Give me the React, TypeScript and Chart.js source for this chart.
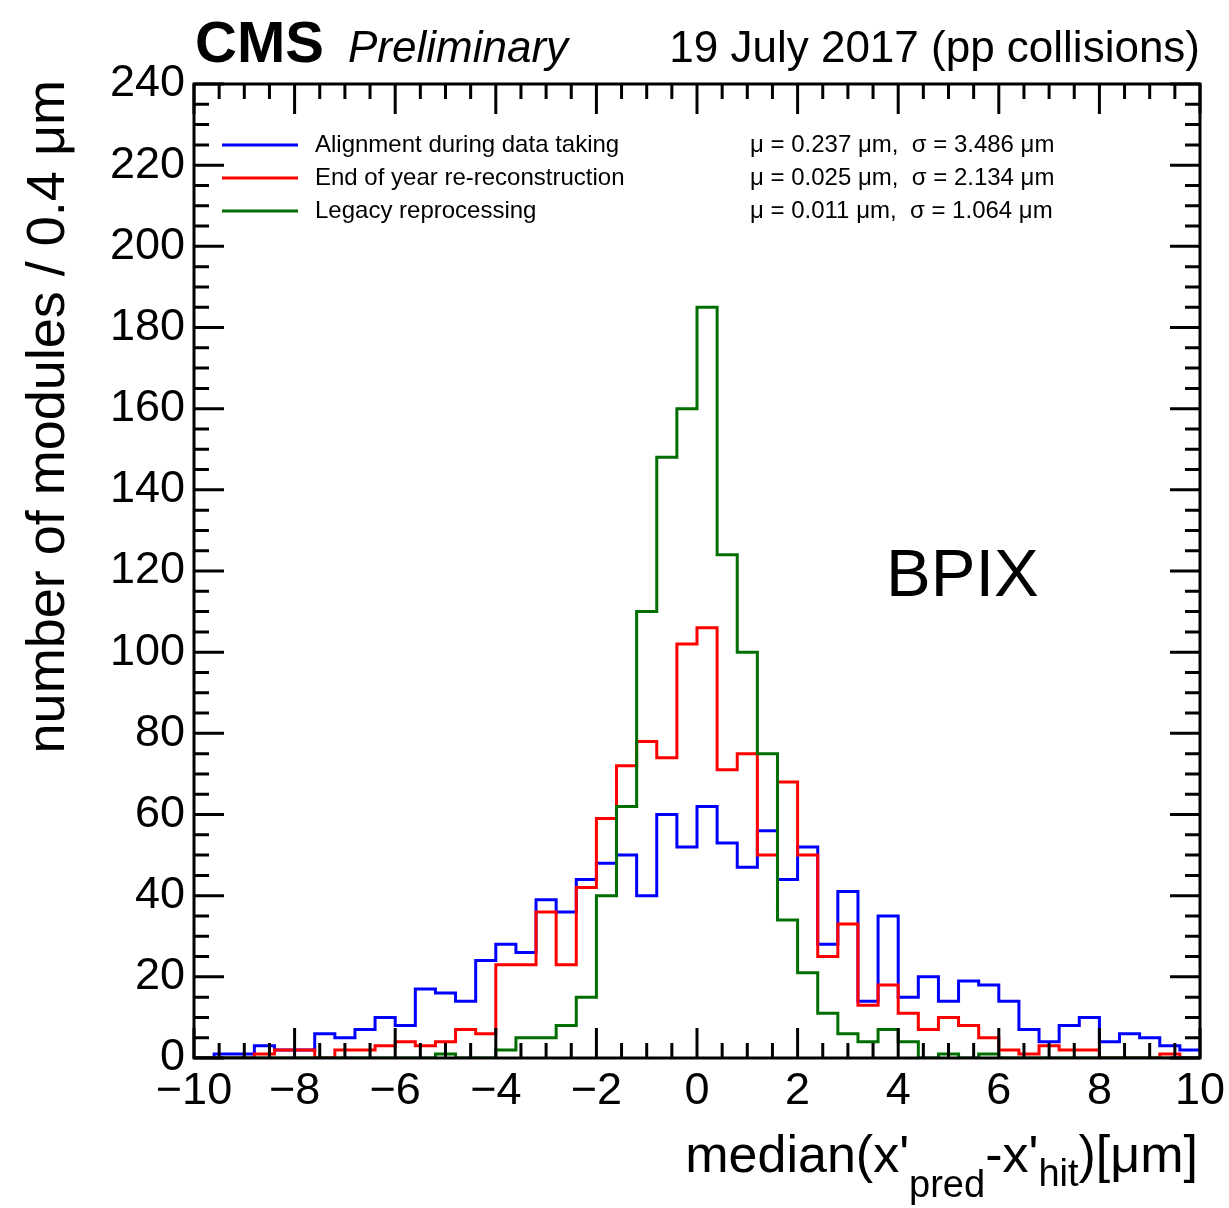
import React, { useEffect, useRef } from "react";
import { Chart, registerables } from "chart.js";

Chart.register(...registerables);

// ---- axis definition ----
const X_MIN = -10;
const X_MAX = 10;
const BIN_WIDTH = 0.4;
const Y_MIN = 0;
const Y_MAX = 240;
const xTickValues = [-10, -8, -6, -4, -2, 0, 2, 4, 6, 8, 10];
const yTickValues = [0, 20, 40, 60, 80, 100, 120, 140, 160, 180, 200, 220, 240];
const X_MINOR_DIVISIONS = 4;
const Y_MINOR_DIVISIONS = 4;

// ---- histogram contents (50 bins of 0.4 um from -10 to 10) ----
const alignmentDuringDataTaking = [
  0, 1, 1, 3, 2, 2, 6, 5, 7, 10,
  8, 17, 16, 14, 24, 28, 26, 39, 36, 44,
  48, 50, 40, 60, 52, 62, 53, 47, 56, 44,
  52, 28, 41, 14, 35, 15, 20, 14, 19, 18,
  14, 7, 4, 8, 10, 4, 6, 5, 3, 2,
];
const endOfYearReReconstruction = [
  0, 0, 0, 1, 2, 2, 0, 2, 2, 3,
  4, 3, 4, 7, 6, 23, 23, 36, 23, 42,
  59, 72, 78, 74, 102, 106, 71, 75, 50, 68,
  50, 25, 33, 13, 18, 11, 7, 10, 8, 5,
  2, 1, 3, 2, 2, 0, 0, 0, 1, 0,
];
const legacyReprocessing = [
  0, 0, 0, 0, 0, 0, 0, 0, 0, 0,
  0, 0, 1, 0, 0, 2, 5, 5, 8, 15,
  40, 62, 110, 148, 160, 185, 124, 100, 75, 34,
  21, 11, 6, 4, 7, 4, 0, 1, 0, 1,
  0, 0, 0, 0, 0, 0, 0, 0, 0, 0,
];

const seriesLabels = [
  "Alignment during data taking",
  "End of year re-reconstruction",
  "Legacy reprocessing",
];
const seriesStats = [
  "\u03bc = 0.237 \u03bcm,  \u03c3 = 3.486 \u03bcm",
  "\u03bc = 0.025 \u03bcm,  \u03c3 = 2.134 \u03bcm",
  "\u03bc = 0.011 \u03bcm,  \u03c3 = 1.064 \u03bcm",
];
const seriesColors = ["#0000ff", "#ff0000", "#006e00"];
const seriesValues = [alignmentDuringDataTaking, endOfYearReReconstruction, legacyReprocessing];

const FONT = "'Liberation Sans', Arial, Helvetica, sans-serif";

function toSteps(values: number[]) {
  const pts = values.map((v, i) => ({ x: X_MIN + i * BIN_WIDTH, y: v }));
  pts.push({ x: X_MAX, y: values[values.length - 1] });
  return pts;
}

function fmt(v: number) {
  return v < 0 ? "\u2212" + Math.abs(v) : String(v);
}

const decorPlugin = {
  id: "cmsDecor",
  afterDatasetsDraw(chart: any) {
    const { ctx, chartArea } = chart;
    const xs = chart.scales.x;
    const ys = chart.scales.y;
    const { left, right, top, bottom } = chartArea;
    ctx.save();
    ctx.strokeStyle = "#000";
    ctx.lineWidth = 3;
    ctx.lineCap = "butt";
    ctx.beginPath();
    for (let i = 0; i < xTickValues.length; i++) {
      const v = xTickValues[i];
      const px = xs.getPixelForValue(v);
      ctx.moveTo(px, bottom);
      ctx.lineTo(px, bottom - 30);
      ctx.moveTo(px, top);
      ctx.lineTo(px, top + 30);
      if (i < xTickValues.length - 1) {
        const step = (xTickValues[i + 1] - v) / X_MINOR_DIVISIONS;
        for (let k = 1; k < X_MINOR_DIVISIONS; k++) {
          const mx = xs.getPixelForValue(v + k * step);
          ctx.moveTo(mx, bottom);
          ctx.lineTo(mx, bottom - 15);
          ctx.moveTo(mx, top);
          ctx.lineTo(mx, top + 15);
        }
      }
    }
    for (let i = 0; i < yTickValues.length; i++) {
      const v = yTickValues[i];
      const py = ys.getPixelForValue(v);
      ctx.moveTo(left, py);
      ctx.lineTo(left + 30, py);
      ctx.moveTo(right, py);
      ctx.lineTo(right - 30, py);
      if (i < yTickValues.length - 1) {
        const step = (yTickValues[i + 1] - v) / Y_MINOR_DIVISIONS;
        for (let k = 1; k < Y_MINOR_DIVISIONS; k++) {
          const my = ys.getPixelForValue(v + k * step);
          ctx.moveTo(left, my);
          ctx.lineTo(left + 15, my);
          ctx.moveTo(right, my);
          ctx.lineTo(right - 15, my);
        }
      }
    }
    ctx.stroke();
    ctx.lineWidth = 3;
    ctx.strokeRect(left, top, right - left, bottom - top);
    ctx.restore();
  },
  afterDraw(chart: any) {
    const { ctx, chartArea } = chart;
    const { left, right } = chartArea;
    ctx.save();
    ctx.fillStyle = "#000";
    ctx.textBaseline = "alphabetic";

    // header
    ctx.textAlign = "left";
    ctx.font = `bold 58px ${FONT}`;
    ctx.fillText("CMS", left + 1, 62);
    ctx.font = `italic 44px ${FONT}`;
    ctx.fillText("Preliminary", 348, 62);
    ctx.textAlign = "right";
    ctx.font = `44px ${FONT}`;
    ctx.fillText("19 July 2017 (pp collisions)", right, 62);

    // legend
    ctx.textAlign = "left";
    ctx.textBaseline = "middle";
    ctx.font = `24px ${FONT}`;
    const legendY = [145, 178, 211];
    for (let i = 0; i < seriesLabels.length; i++) {
      ctx.strokeStyle = seriesColors[i];
      ctx.lineWidth = 3;
      ctx.beginPath();
      ctx.moveTo(222, legendY[i]);
      ctx.lineTo(298, legendY[i]);
      ctx.stroke();
      ctx.fillText(seriesLabels[i], 315, legendY[i]);
      ctx.fillText(seriesStats[i], 750, legendY[i]);
    }

    // BPIX
    ctx.textBaseline = "alphabetic";
    ctx.font = `67px ${FONT}`;
    ctx.fillText("BPIX", 886, 596);

    // y title
    ctx.save();
    ctx.translate(64, 80);
    ctx.rotate(-Math.PI / 2);
    ctx.textAlign = "right";
    ctx.font = `54px ${FONT}`;
    ctx.fillText("number of modules / 0.4 \u03bcm", 0, 0);
    ctx.restore();

    // x title with subscripts
    const big = `52px ${FONT}`;
    const sub = `38px ${FONT}`;
    const parts = [
      { t: "median(x'", f: big, dy: 0 },
      { t: "pred", f: sub, dy: 25 },
      { t: "-x'", f: big, dy: 0 },
      { t: "hit", f: sub, dy: 14 },
      { t: ")[\u03bcm]", f: big, dy: 0 },
    ];
    let total = 0;
    for (const p of parts) {
      ctx.font = p.f;
      total += ctx.measureText(p.t).width;
    }
    let x = right - 2 - total;
    const base = 1172;
    ctx.textAlign = "left";
    for (const p of parts) {
      ctx.font = p.f;
      ctx.fillText(p.t, x, base + p.dy);
      x += ctx.measureText(p.t).width;
    }
    ctx.restore();
  },
};

export default function App() {
  const ref = useRef<HTMLCanvasElement | null>(null);
  useEffect(() => {
    document.body.style.margin = "0";
    const canvas = ref.current!;
    const chart = new Chart(canvas, {
      type: "line",
      data: {
        datasets: seriesValues.map((vals, i) => ({
          label: seriesLabels[i],
          data: toSteps(vals),
          borderColor: seriesColors[i],
          backgroundColor: seriesColors[i],
          borderWidth: 3,
          pointRadius: 0,
          stepped: "before" as const,
          fill: false,
          order: 3 - i,
        })),
      },
      options: {
        animation: false,
        responsive: false,
        devicePixelRatio: 1,
        events: [],
        layout: { padding: { left: 0, top: 84, right: 29, bottom: 0 } },
        plugins: { legend: { display: false }, tooltip: { enabled: false }, title: { display: false } },
        scales: {
          x: {
            type: "linear",
            min: X_MIN,
            max: X_MAX,
            afterBuildTicks: (s: any) => {
              s.ticks = xTickValues.map((v) => ({ value: v }));
            },
            afterFit: (s: any) => {
              s.height = 150;
              s.paddingLeft = 0;
              s.paddingRight = 0;
            },
            grid: { display: false, drawTicks: false },
            border: { display: false },
            ticks: {
              autoSkip: false,
              maxRotation: 0,
              minRotation: 0,
              padding: 7,
              color: "#000",
              font: { family: FONT, size: 45 },
              callback: (v: any) => fmt(Number(v)),
            },
          },
          y: {
            type: "linear",
            min: Y_MIN,
            max: Y_MAX,
            afterBuildTicks: (s: any) => {
              s.ticks = yTickValues.map((v) => ({ value: v }));
            },
            afterFit: (s: any) => {
              s.width = 194;
              s.paddingTop = 0;
              s.paddingBottom = 0;
            },
            grid: { display: false, drawTicks: false },
            border: { display: false },
            ticks: {
              autoSkip: false,
              padding: 9,
              color: "#000",
              font: { family: FONT, size: 45 },
              callback: (v: any) => fmt(Number(v)),
            },
          },
        },
      },
      plugins: [decorPlugin],
    });
    return () => chart.destroy();
  }, []);
  return (
    <canvas
      ref={ref}
      width={1229}
      height={1208}
      style={{ display: "block", width: 1229, height: 1208 }}
    />
  );
}
